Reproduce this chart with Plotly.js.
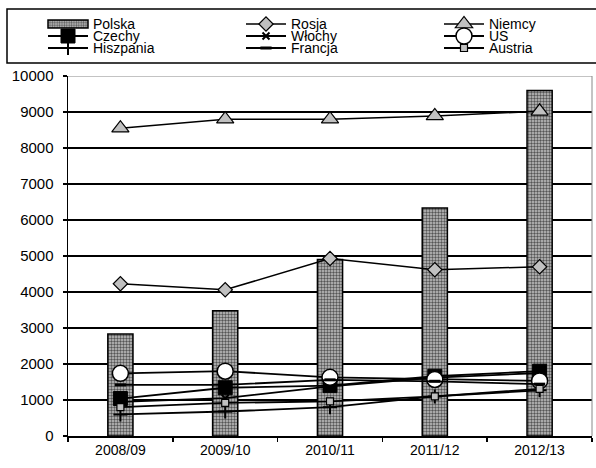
<!DOCTYPE html>
<html><head><meta charset="utf-8">
<script src="https://cdn.plot.ly/plotly-3.0.1.min.js"></script>
<style>html,body{margin:0;padding:0;background:#fff}</style>
</head><body><div id="chart" style="width:596px;height:468px"></div>
<script>
const seasons = ['2008/09','2009/10','2010/11','2011/12','2012/13'];
const polska    = [2830, 3480, 4900, 6330, 9600];
const rosja     = [4230, 4060, 4930, 4620, 4700];
const niemcy    = [8550, 8800, 8800, 8890, 9020];
const czechy    = [1040, 1340, 1400, 1660, 1800];
const wlochy    = [950, 1050, 1380, 1620, 1750];
const us        = [1740, 1800, 1630, 1570, 1530];
const hiszpania = [600, 680, 800, 1100, 1270];
const francja   = [1420, 1420, 1560, 1520, 1440];
const austria   = [800, 920, 960, 1100, 1310];

function lineTrace(name, y, marker, lw){
  return {type:'scatter', mode:'lines+markers', name:name, x:seasons, y:y,
    line:{color:'#000', width:lw || 1.8}, marker:marker, cliponaxis:false};
}
const traces = [
  {type:'bar', name:'Polska', x:seasons, y:polska, width:0.24,
   marker:{color:'#b0b0b0', pattern:{shape:'.', size:3, solidity:0.5, fgcolor:'#555', bgcolor:'#c4c4c4'},
           line:{color:'#000', width:1.5}}},
  lineTrace('Rosja', rosja, {symbol:'diamond', size:11, color:'#c0c0c0', line:{color:'#000', width:1.2}}, 1.5),
  lineTrace('Niemcy', niemcy, {symbol:'triangle-up', size:15, color:'#c0c0c0', line:{color:'#000', width:1.2}}, 1.5),
  lineTrace('Czechy', czechy, {symbol:'square', size:14, color:'#000', line:{color:'#000', width:1}}),
  lineTrace('Włochy', wlochy, {symbol:'x-thin', size:7, color:'#000', line:{color:'#000', width:2}}),
  lineTrace('US', us, {symbol:'circle', size:16, color:'#fff', line:{color:'#000', width:1.5}}),
  lineTrace('Hiszpania', hiszpania, {symbol:'cross-thin', size:10, color:'#000', line:{color:'#000', width:2}}),
  lineTrace('Francja', francja, {symbol:'line-ew', size:8, color:'#000', line:{color:'#000', width:3}}),
  lineTrace('Austria', austria, {symbol:'square', size:7, color:'#c0c0c0', line:{color:'#000', width:1.2}})
];

const FONT = 'Liberation Sans, Arial, sans-serif';
const W = 596, H = 468, ML = 68, MR = 4, MT = 76, MB = 32;
const PW = W - ML - MR, PH = H - MT - MB;
const px = v => (v - ML) / PW;          // pixel x -> paper
const py = v => (H - MB - v) / PH;      // pixel y -> paper
const layout = {
  width:W, height:H,
  margin:{l:ML, r:MR, t:MT, b:MB, autoexpand:false},
  paper_bgcolor:'#fff', plot_bgcolor:'#fff',
  font:{family:FONT, size:14, color:'#000'},
  showlegend:true,
  barmode:'overlay',
  xaxis:{type:'category', range:[-0.5,4.5], showline:true, linecolor:'#000', linewidth:2,
         ticks:'outside', tickson:'boundaries', ticklen:4, tickcolor:'#000', tickwidth:1.5,
         showgrid:false, zeroline:false, tickfont:{family:FONT, size:14, color:'#000'}},
  yaxis:{range:[0,10000], dtick:1000, tickformat:'d', showline:true, linecolor:'#000', linewidth:1.5,
         ticks:'outside', ticklen:4, tickcolor:'#000', tickwidth:1.5,
         gridcolor:'#000', gridwidth:1.5, zeroline:false, ticklabelstandoff:6,
         tickfont:{family:FONT, size:15, color:'#000'}},
  legend:{orientation:'h', xref:'paper', yref:'paper', x:px(43), y:py(8),
          xanchor:'left', yanchor:'top', borderwidth:0, bgcolor:'rgba(0,0,0,0)',
          font:{family:FONT, size:14, color:'#000'}, entrywidth:143, entrywidthmode:'pixels',
          itemwidth:40, tracegroupgap:0, traceorder:'normal'},
  shapes:[
    {type:'rect', xref:'paper', yref:'paper', x0:px(7), x1:px(W+5), y0:py(63), y1:py(9),
     line:{color:'#000', width:1.5}, fillcolor:'rgba(0,0,0,0)', layer:'below'},
    {type:'line', xref:'paper', yref:'y', x0:0, x1:1, y0:10000, y1:10000, line:{color:'#fff', width:2.5}, layer:'above'},
    {type:'line', xref:'paper', yref:'y', x0:0, x1:1, y0:10000, y1:10000, line:{color:'#888', width:1}, layer:'above'},
    {type:'line', xref:'paper', yref:'paper', x0:1, x1:1, y0:0, y1:1, line:{color:'#888', width:1}, layer:'above'}
  ]
};
Plotly.newPlot('chart', traces, layout, {displayModeBar:false, staticPlot:true}).then(function(gd){
  // compress legend rows to the tight spacing of the original
  const items = Array.from(gd.querySelectorAll('.legend .traces'));
  const parse = el => {
    const m = /translate\(\s*([-\d.e]+)[ ,]+([-\d.e]+)\s*\)/.exec(el.getAttribute('transform') || '');
    return m ? [parseFloat(m[1]), parseFloat(m[2])] : null;
  };
  const pos = items.map(parse);
  if (items.length && pos.every(p => p)) {
    const ys = [...new Set(pos.map(p => Math.round(p[1])))].sort((a, b) => a - b);
    items.forEach((el, i) => {
      const r = ys.indexOf(Math.round(pos[i][1]));
      el.setAttribute('transform', 'translate(' + pos[i][0] + ',' + (ys[0] + r * 12) + ')');
    });
    // wide rectangle for the bar entry
    const barPath = items[0].querySelector('.legendpoints path');
    if (barPath) barPath.setAttribute('d', 'M20,4H-20V-4H20Z');
  }
});
</script></body></html>
